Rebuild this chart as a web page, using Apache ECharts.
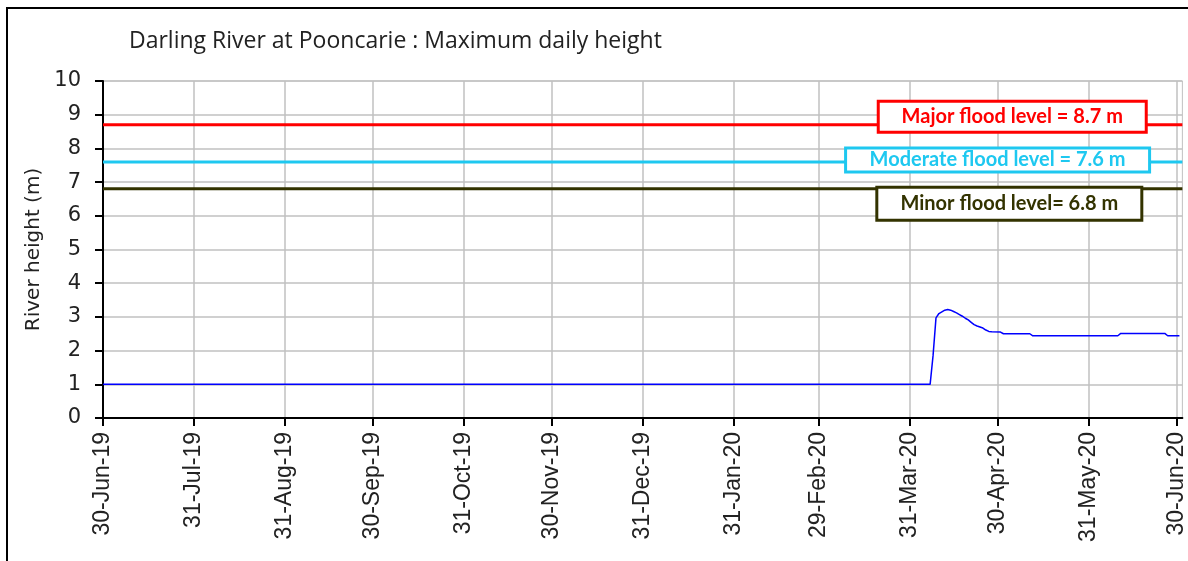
<!DOCTYPE html>
<html>
<head>
<meta charset="utf-8">
<title>Darling River at Pooncarie</title>
<style>html, body {margin: 0; padding: 0; background: #fff;}</style>
<script src="https://cdn.jsdelivr.net/npm/echarts@6/dist/echarts.min.js"></script>
</head>
<body>
<div id="main" style="width: 1188px; height: 561px;"></div>
<script type="text/javascript">
// river height readings (date, metres)
var riverDates = ['2019-06-30', '2020-04-07', '2020-04-08', '2020-04-09', '2020-04-10', '2020-04-11',
  '2020-04-12', '2020-04-13', '2020-04-14', '2020-04-15', '2020-04-16', '2020-04-17', '2020-04-18',
  '2020-04-19', '2020-04-20', '2020-04-21', '2020-04-22', '2020-04-23', '2020-04-24', '2020-04-25',
  '2020-04-26', '2020-04-27', '2020-04-28', '2020-05-01', '2020-05-02', '2020-05-11', '2020-05-12',
  '2020-06-10', '2020-06-11', '2020-06-26', '2020-06-27', '2020-07-01'];
var riverHeights = [1.0, 1.0, 1.85, 2.97, 3.1, 3.15,
  3.2, 3.22, 3.2, 3.16, 3.12, 3.07, 3.02,
  2.96, 2.91, 2.84, 2.77, 2.73, 2.70, 2.67,
  2.61, 2.57, 2.56, 2.55, 2.50, 2.50, 2.44,
  2.44, 2.51, 2.51, 2.44, 2.44];

// flood classification levels
var floodNames = ['Major flood level = 8.7 m', 'Moderate flood level = 7.6 m', 'Minor flood level= 6.8 m'];
var floodLevels = [8.7, 7.6, 6.8];

// x axis tick dates
var tickDates = ['2019-06-30', '2019-07-31', '2019-08-31', '2019-09-30', '2019-10-31', '2019-11-30',
  '2019-12-31', '2020-01-31', '2020-02-29', '2020-03-31', '2020-04-30', '2020-05-31', '2020-06-30'];
var monthNames = ['Jan', 'Feb', 'Mar', 'Apr', 'May', 'Jun', 'Jul', 'Aug', 'Sep', 'Oct', 'Nov', 'Dec'];

var xStart = '2019-06-30';
var xEnd = '2020-07-02';

function ts(s) {
  var p = s.split('-');
  return Date.UTC(+p[0], +p[1] - 1, +p[2]);
}
function fmtDate(v) {
  var d = new Date(v);
  var yy = String(d.getUTCFullYear() % 100);
  if (yy.length < 2) yy = '0' + yy;
  return d.getUTCDate() + '-' + monthNames[d.getUTCMonth()] + '-' + yy;
}

// label boxes: anchor date on the level line, pixel offset and box size
var floodStyle = [
  {color: '#ff0000', anchor: '2020-05-05', offset: -8, size: [265, 28]},
  {color: '#1ec8f0', anchor: '2020-04-30', offset: -2, size: [301, 21]},
  {color: '#333300', anchor: '2020-05-04', offset: 15, size: [262, 30]}
];

var chartDom = document.getElementById('main');
var myChart = echarts.init(chartDom);
var tickValues = tickDates.map(ts);

var series = [];
floodLevels.forEach(function(level, i) {
  var st = floodStyle[i];
  series.push({
    type: 'line',
    data: [[ts(xStart), level], [ts(xEnd), level]],
    showSymbol: false,
    silent: true,
    lineStyle: {color: st.color, width: 3},
    z: 3,
    markPoint: {
      silent: true,
      symbol: 'circle',
      symbolSize: 0,
      label: {
        show: true,
        position: 'inside',
        offset: [0, st.offset],
        formatter: floodNames[i],
        color: st.color,
        fontFamily: 'Lato',
        fontWeight: 'bold',
        fontSize: 20,
        width: st.size[0],
        height: st.size[1],
        lineHeight: st.size[1],
        align: 'center',
        verticalAlign: 'middle',
        backgroundColor: '#ffffff',
        borderColor: st.color,
        borderWidth: 3
      },
      data: [{coord: [ts(st.anchor), level]}]
    }
  });
});
series.push({
  type: 'line',
  data: riverDates.map(function(d, i) { return [ts(d), riverHeights[i]]; }),
  showSymbol: false,
  lineStyle: {color: '#0000ff', width: 1.5},
  z: 4
});

var option = {
  animation: false,
  title: {
    text: 'Darling River at Pooncarie : Maximum daily height',
    left: 124,
    top: 25,
    textStyle: {fontFamily: 'Open Sans', fontSize: 23, fontWeight: 'normal', color: '#222'}
  },
  graphic: [{
    type: 'rect',
    shape: {x: 7, y: 8, width: 1200, height: 600},
    style: {fill: 'none', stroke: '#000', lineWidth: 2},
    silent: true
  }],
  grid: {
    left: 103, right: 5, top: 81, bottom: 143,
    show: true, borderColor: '#c0c0c0', borderWidth: 1
  },
  xAxis: {
    type: 'value',
    min: ts(xStart),
    max: ts(xEnd),
    axisLine: {lineStyle: {color: '#000', width: 2}},
    axisTick: {show: true, length: 8, lineStyle: {color: '#000', width: 2}, customValues: tickValues},
    axisLabel: {
      customValues: tickValues,
      rotate: 90,
      margin: 14,
      formatter: function(v) { return fmtDate(v); },
      fontFamily: 'Liberation Sans',
      fontSize: 23,
      color: '#222'
    },
    splitLine: {show: true, lineStyle: {color: '#c0c0c0', width: 1.5}}
  },
  yAxis: {
    type: 'value',
    min: 0,
    max: 10,
    interval: 1,
    name: 'River height (m)',
    nameLocation: 'middle',
    nameGap: 58,
    nameTextStyle: {fontFamily: 'DejaVu Sans', fontSize: 20, color: '#222'},
    axisLine: {show: true, lineStyle: {color: '#000', width: 2}},
    axisTick: {show: true, length: 8, lineStyle: {color: '#000', width: 2}},
    axisLabel: {margin: 22, fontFamily: 'DejaVu Sans', fontSize: 21, color: '#222'},
    splitLine: {show: true, lineStyle: {color: '#c0c0c0', width: 1.5}}
  },
  series: series
};
myChart.setOption(option);
</script>
</body>
</html>
